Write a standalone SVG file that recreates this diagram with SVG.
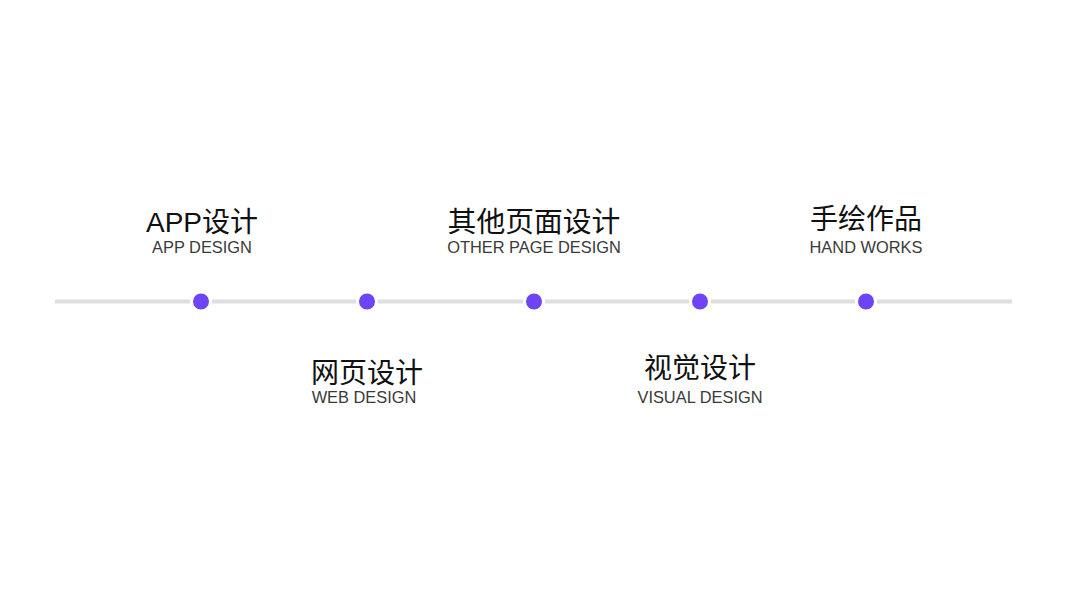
<svg xmlns="http://www.w3.org/2000/svg" width="1067" height="600" viewBox="0 0 1067 600">
<style>
.t{font-family:"Liberation Sans","Noto Sans CJK SC",sans-serif;font-size:28px;fill:#111;text-anchor:middle}
.s{font-family:"Liberation Sans","Noto Sans CJK SC",sans-serif;font-size:16.4px;fill:#3a3a3a;text-anchor:middle}
.dot{fill:#6e45f6;stroke:#fff;stroke-width:3}
</style>
<rect width="1067" height="600" fill="#fff"/>
<g id="connectors">
<line x1="55" y1="301.5" x2="1012" y2="301.5" stroke="#dedede" stroke-width="4"/>
</g>
<g id="node-app">
<circle class="dot" cx="201" cy="301.5" r="9.5"/>
<text class="t" x="202" y="232">APP设计</text>
<text class="s" x="202" y="253">APP DESIGN</text>
</g>
<g id="node-web">
<circle class="dot" cx="367" cy="301.5" r="9.5"/>
<text class="t" x="367" y="383">网页设计</text>
<text class="s" x="364" y="403">WEB DESIGN</text>
</g>
<g id="node-other">
<circle class="dot" cx="534" cy="301.5" r="9.5"/>
<text class="t" x="534" y="232" style="font-size:28.8px">其他页面设计</text>
<text class="s" x="534" y="253">OTHER PAGE DESIGN</text>
</g>
<g id="node-visual">
<circle class="dot" cx="700" cy="301.5" r="9.5"/>
<text class="t" x="700" y="378">视觉设计</text>
<text class="s" x="700" y="403">VISUAL DESIGN</text>
</g>
<g id="node-hand">
<circle class="dot" cx="866" cy="301.5" r="9.5"/>
<text class="t" x="866" y="229">手绘作品</text>
<text class="s" x="866" y="253">HAND WORKS</text>
</g>
</svg>
